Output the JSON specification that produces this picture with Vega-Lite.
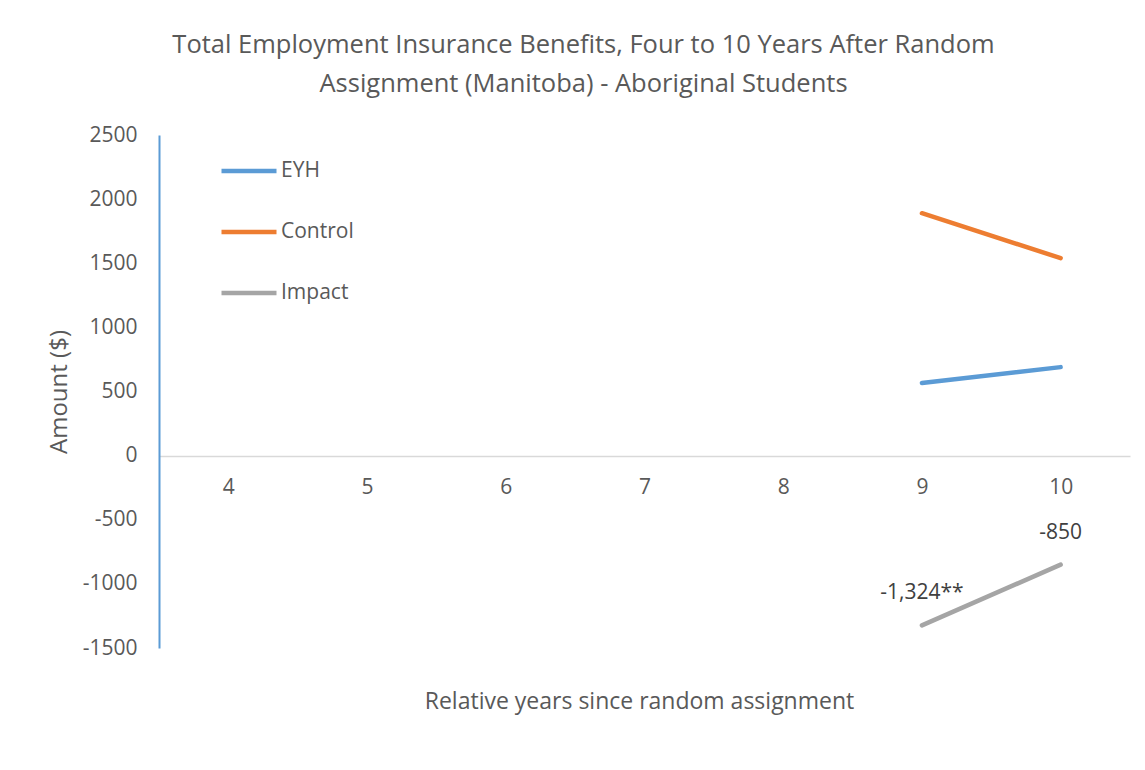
{
  "$schema": "https://vega.github.io/schema/vega-lite/v6.json",
  "width": 971,
  "height": 513,
  "autosize": {"type": "none"},
  "padding": {"left": 159, "top": 135, "right": 15, "bottom": 122},
  "background": "white",
  "title": {
    "text": ["Total Employment Insurance Benefits, Four to 10 Years After Random", "Assignment (Manitoba) - Aboriginal Students"],
    "font": "Open Sans",
    "fontSize": 25.5,
    "fontWeight": "normal",
    "color": "#595959",
    "lineHeight": 39,
    "anchor": "middle",
    "dx": -61,
    "offset": 27
  },
  "config": {
    "view": {"stroke": null},
    "font": "Open Sans"
  },
  "data": {
    "values": [
      {"year": "4", "series": "EYH", "value": null, "label": null},
      {"year": "5", "series": "EYH", "value": null, "label": null},
      {"year": "6", "series": "EYH", "value": null, "label": null},
      {"year": "7", "series": "EYH", "value": null, "label": null},
      {"year": "8", "series": "EYH", "value": null, "label": null},
      {"year": "9", "series": "EYH", "value": 566, "label": null},
      {"year": "10", "series": "EYH", "value": 690, "label": null},
      {"year": "9", "series": "Control", "value": 1890, "label": null},
      {"year": "10", "series": "Control", "value": 1540, "label": null},
      {"year": "9", "series": "Impact", "value": -1324, "label": "-1,324**"},
      {"year": "10", "series": "Impact", "value": -850, "label": "-850"}
    ]
  },
  "encoding": {
    "x": {
      "field": "year",
      "type": "ordinal",
      "sort": ["4", "5", "6", "7", "8", "9", "10"],
      "scale": {"type": "point", "padding": 0.5, "domain": ["4", "5", "6", "7", "8", "9", "10"]},
      "axis": {
        "title": "Relative years since random assignment",
        "offset": -192,
        "domainColor": "#d9d9d9",
        "domainWidth": 1.5,
        "ticks": false,
        "labelAngle": 0,
        "labelPadding": 20,
        "labelFontSize": 21,
        "labelColor": "#595959",
        "labelFont": "Open Sans",
        "titleFont": "Open Sans",
        "titleFontSize": 23,
        "titleFontWeight": "normal",
        "titleColor": "#595959",
        "titleX": 480,
        "titleY": 234,
        "grid": false
      }
    },
    "y": {
      "field": "value",
      "type": "quantitative",
      "scale": {"domain": [-1500, 2500], "nice": false, "zero": false},
      "axis": {
        "title": "Amount ($)",
        "values": [-1500, -1000, -500, 0, 500, 1000, 1500, 2000, 2500],
        "labelExpr": "'' + datum.value",
        "domainColor": "#5b9bd5",
        "domainWidth": 2,
        "ticks": false,
        "grid": false,
        "labelPadding": 22,
        "labelFontSize": 21,
        "labelColor": "#595959",
        "labelFont": "Open Sans",
        "titleFont": "Open Sans",
        "titleFontSize": 24,
        "titleFontWeight": "normal",
        "titleColor": "#595959",
        "titlePadding": 11
      }
    }
  },
  "layer": [
    {
      "mark": {"type": "line", "strokeWidth": 4.5, "strokeCap": "round"},
      "encoding": {
        "color": {
          "field": "series",
          "type": "nominal",
          "scale": {"domain": ["EYH", "Control", "Impact"], "range": ["#5b9bd5", "#ed7d31", "#a5a5a5"]},
          "legend": {
            "title": null,
            "orient": "none",
            "legendX": 60,
            "legendY": 6,
            "symbolType": "stroke",
            "symbolSize": 3025,
            "symbolStrokeWidth": 4.5,
            "labelFontSize": 21,
            "labelColor": "#595959",
            "labelFont": "Open Sans",
            "labelOffset": 2,
            "rowPadding": 21
          }
        }
      }
    },
    {
      "transform": [{"filter": "datum.label != null"}],
      "mark": {"type": "text", "dy": -32, "fontSize": 21, "color": "#404040", "font": "Open Sans"},
      "encoding": {"text": {"field": "label"}}
    }
  ]
}
